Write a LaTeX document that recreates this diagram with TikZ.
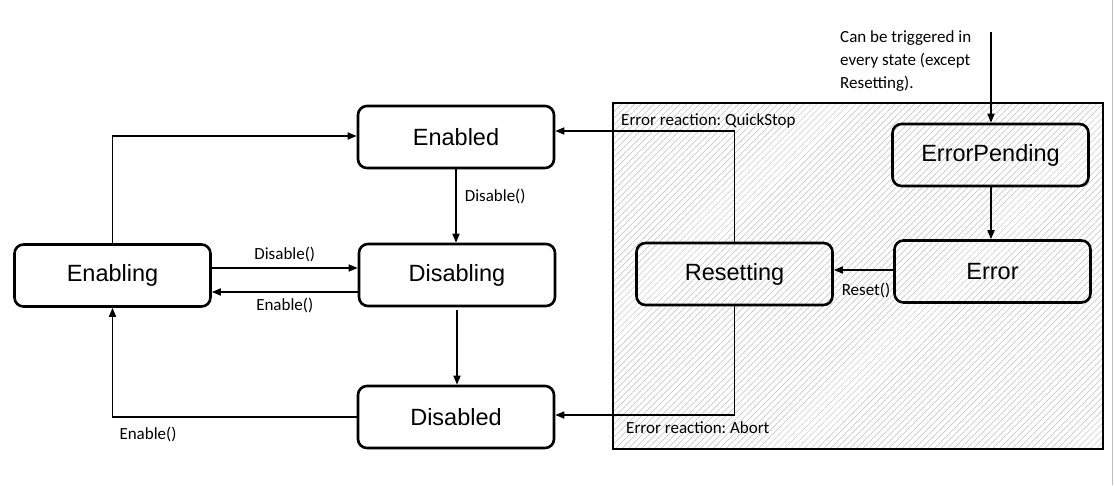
\documentclass[tikz,border=0pt]{standalone}
\usepackage{fontspec}
\setmainfont{Liberation Sans}
\newfontfamily\labfont{Carlito}
\frenchspacing
\usetikzlibrary{arrows.meta,patterns.meta}
\tikzset{
  state/.style={draw, line width=2.6pt, rounded corners=9pt, minimum width=196pt, minimum height=62pt, inner sep=0pt, font=\fontsize{23.5}{28}\selectfont},
  arr/.style={line width=1.6pt, -{Triangle[length=9pt,width=7pt]}},
  lab/.style={font=\labfont\fontsize{17}{20}\selectfont, inner sep=0pt},
  zone/.style={draw, line width=1.8pt, pattern={Lines[angle=45,distance=4.6pt,line width=0.5pt]}, pattern color=black!25}
}
\begin{document}
\begin{tikzpicture}[x=1pt,y=-1pt]
\useasboundingbox (0,0) rectangle (1114,485);
\fill[white] (0,0) rectangle (1114,485);
\draw[black!25, line width=1.5pt] (1112.5,0) -- (1112.5,485);
% error zone
\draw[zone] (613,103) rectangle (1103,449);
% states
\node[state] (enabled) at (456,137) {Enabled};
\node[state] (disabling) at (457,275) {Disabling};
\node[state] (disabled) at (456,417) {Disabled};
\node[state] (enabling) at (112.5,275.5) {Enabling};
\node[state, fill=none] (resetting) at (734.5,274) {Resetting};
\node[state, fill=none] (error) at (992.5,271.5) {Error};
\node[state, fill=none] (errorpending) at (990.5,155) {ErrorPending};
% trigger
\coordinate (trig) at (991,32);
\node[lab, anchor=west, align=left, font=\labfont\fontsize{17}{23}\selectfont] (trigtext) at (840,61) {Can be triggered in\\every state (except\\Resetting).};
\draw[arr] (trig) -- (errorpending.north -| trig);
\draw[arr] (errorpending.south -| trig) -- (error.north -| trig);
% connectors
\draw[arr] (enabling.north) |- ([yshift=1pt]enabled.west);
\draw[arr] (enabled.south) -- (disabling.north -| enabled.south) node[lab, midway, anchor=west, xshift=8pt, yshift=10pt] (l1) {Disable()};
\draw[arr] ([yshift=7.5pt]enabling.east) -- ([yshift=7.5pt]enabling.east -| disabling.west) node[lab, midway, above=5pt] (l2) {Disable()};
\draw[arr] ([yshift=-16.5pt]enabling.east -| disabling.west) -- ([yshift=-16.5pt]enabling.east) node[lab, midway, below=5pt] (l3) {Enable()};
\draw[arr] ([yshift=-3pt]disabling.south) -- (disabled.north -| disabling.south);
\draw[arr] (disabled.west) -| (enabling.south);
\node[lab] (l4) at (148,434) {Enable()};
\draw[arr] (resetting.north) |- ([yshift=6pt]enabled.east);
\node[lab, anchor=west] (l5) at (621,121) {Error reaction: QuickStop};
\draw[arr] (resetting.south) |- ([yshift=2pt]disabled.east);
\node[lab, anchor=west] (l6) at (626,428) {Error reaction: Abort};
\draw[arr] ([yshift=1.5pt]error.west) -- ([yshift=1.5pt]error.west -| resetting.east);
\node[lab] (l7) at (866,290) {Reset()};
\end{tikzpicture}
\end{document}
